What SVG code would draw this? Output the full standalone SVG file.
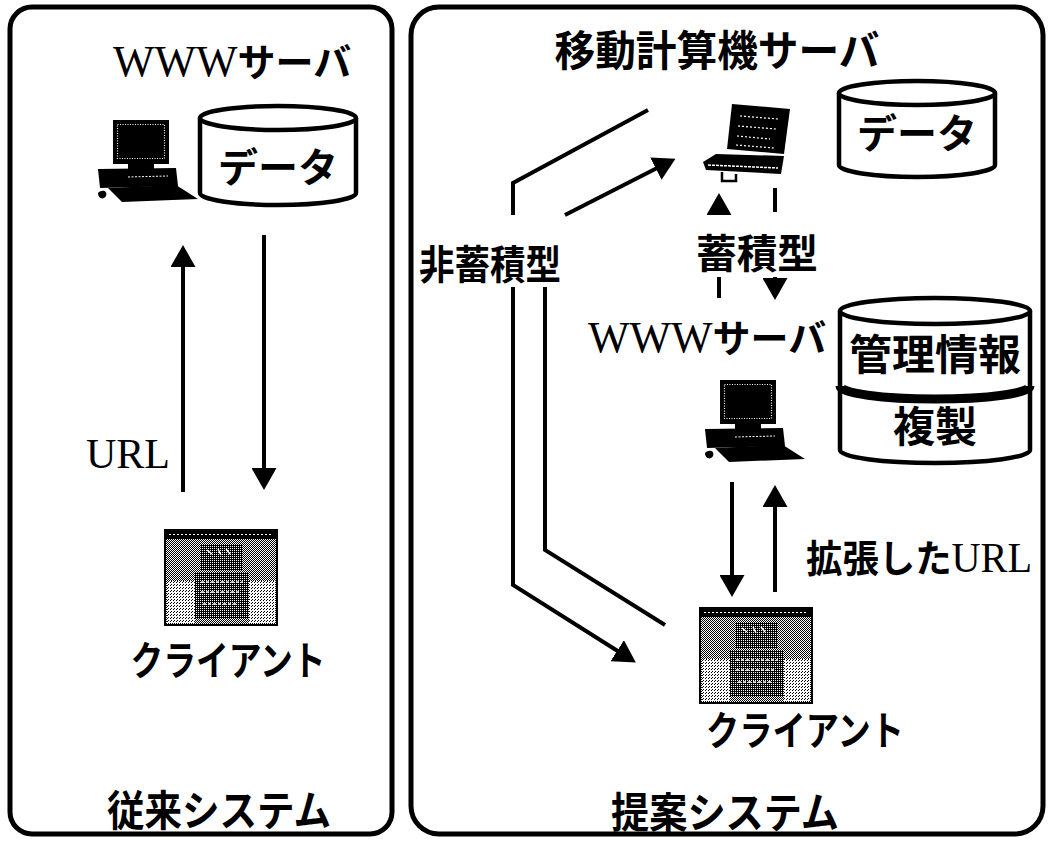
<svg xmlns="http://www.w3.org/2000/svg" width="1049" height="842" viewBox="0 0 1049 842">
  <style>
    .panel { fill: none; stroke: #000; stroke-width: 5; }
    .jp { font-family: "Noto Sans CJK JP", "Noto Sans", sans-serif; font-weight: 700; fill: #000; }
    .rom { font-family: "Liberation Serif", serif; font-weight: 400; fill: #000; }
    .cyl { fill: #fff; stroke: #000; stroke-width: 4.5; stroke-linejoin: round; }
    .band { fill: none; stroke: #000; stroke-width: 9; }
    .link { fill: none; stroke: #000; stroke-width: 4; stroke-linejoin: miter; }
  </style>
  <defs>
    <marker id="head" viewBox="0 0 22 25" refX="8" refY="12.5" markerWidth="22" markerHeight="25" markerUnits="userSpaceOnUse" orient="auto">
      <path d="M0,0 L22,12.5 L0,25 z" fill="#000"/>
    </marker>
    <!-- halftone fills for the screen shots -->
    <pattern id="ditherLight" width="3" height="3" patternUnits="userSpaceOnUse">
      <rect width="3" height="3" fill="#fff"/>
      <rect x="0" y="0" width="1" height="1" fill="#000"/>
      <rect x="2" y="1" width="1" height="1" fill="#000"/>
    </pattern>
    <pattern id="ditherMid" width="2" height="2" patternUnits="userSpaceOnUse">
      <rect width="2" height="2" fill="#fff"/>
      <rect x="0" y="0" width="1" height="1" fill="#000"/>
      <rect x="1" y="1" width="1" height="1" fill="#000"/>
    </pattern>
    <pattern id="ditherDark" width="2" height="2" patternUnits="userSpaceOnUse">
      <rect width="2" height="2" fill="#000"/>
      <rect x="1" y="0" width="1" height="1" fill="#fff"/>
    </pattern>
    <!-- desktop workstation -->
    <g id="desktop">
      <rect x="15" y="0" width="56" height="44" fill="#000"/>
      <rect x="19.5" y="4.5" width="47" height="34" fill="none" stroke="#fff" stroke-width="1.2" stroke-dasharray="1 1.5"/>
      <rect x="30" y="44" width="26" height="5" fill="#000"/>
      <path d="M0,49 L78,48 L80,66 L2,68 z" fill="#000"/>
      <path d="M30,57 L70,56" stroke="#fff" stroke-width="1" stroke-dasharray="2 1.5"/>
      <path d="M10,68 L78,65 L100,79 L24,82 z" fill="#000"/>
      <path d="M0,73 C4,69 10,71 8,76 C6,80 0,79 0,73 z" fill="#000"/>
    </g>
    <!-- browser window on the client -->
    <g id="browser">
      <rect x="0" y="0" width="112" height="95" fill="url(#ditherMid)" stroke="#000" stroke-width="2"/>
      <rect x="0" y="0" width="112" height="9" fill="#000"/>
      <path d="M4,4.5 H108" stroke="#fff" stroke-width="1" stroke-dasharray="2 2"/>
      <rect x="36" y="14" width="42" height="26" fill="url(#ditherDark)"/>
      <path d="M42,20 l5,4 m6,-5 l3,6 m5,-6 l4,5" stroke="#fff" stroke-width="1.5"/>
      <rect x="30" y="42" width="54" height="46" fill="url(#ditherDark)"/>
      <path d="M36,52 H78 M36,62 H76 M38,74 H72" stroke="#fff" stroke-width="1.5" stroke-dasharray="3 2"/>
      <rect x="2" y="51" width="28" height="42" fill="url(#ditherLight)"/>
      <rect x="84" y="51" width="26" height="42" fill="url(#ditherLight)"/>
    </g>
  </defs>

  <!-- frames -->
  <g id="conventional-frame">
    <rect class="panel" x="10" y="7" width="382" height="827" rx="22"/>
  </g>
  <g id="proposed-frame">
    <rect class="panel" x="411" y="7" width="632" height="827" rx="28"/>
  </g>

  <!-- conventional system -->
  <g id="www-server-left">
    <text x="113" y="76"><tspan class="rom" font-size="44">WWW</tspan><tspan class="jp" font-size="38">サーバ</tspan></text>
    <use href="#desktop" transform="translate(98,120)"/>
  </g>
  <g id="data-left">
    <path class="cyl" d="M200,118 V193 A78,12 0 0 0 356,193 V118"/>
    <ellipse class="cyl" cx="278" cy="118" rx="78" ry="12"/>
    <text class="jp" x="278" y="182" font-size="40" text-anchor="middle">データ</text>
  </g>
  <g id="client-left">
    <use href="#browser" transform="translate(165,530)"/>
    <text class="jp" x="228" y="675" font-size="40" text-anchor="middle" textLength="195" lengthAdjust="spacingAndGlyphs">クライアント</text>
  </g>
  <g id="label-conventional">
    <text class="jp" x="219" y="826" font-size="42" text-anchor="middle" textLength="224" lengthAdjust="spacingAndGlyphs">従来システム</text>
  </g>
  <g id="label-url">
    <text class="rom" x="86" y="468" font-size="42">URL</text>
  </g>

  <!-- proposed system -->
  <g id="mobile-server">
    <text class="jp" x="717" y="66" font-size="42" text-anchor="middle" textLength="325" lengthAdjust="spacingAndGlyphs">移動計算機サーバ</text>
    <g transform="translate(0,8)">
      <path d="M732,96 L790,101 L784,146 L727,141 z" fill="#000"/>
      <path d="M740,108 L778,111 M738,118 L776,121 M737,128 L770,131 M736,137 L774,140" stroke="#fff" stroke-width="1.2" stroke-dasharray="2 2"/>
      <path d="M716,146 L784,148 L781,166 L706,162 L703,154 z" fill="#000"/>
      <path d="M708,157 L778,160" stroke="#fff" stroke-width="1.5" stroke-dasharray="3 1"/>
      <path d="M722,164 V173 H736 V166" fill="none" stroke="#000" stroke-width="2.5"/>
    </g>
  </g>
  <g id="data-right">
    <path class="cyl" d="M839,93 V165 A78,12 0 0 0 995,165 V93"/>
    <ellipse class="cyl" cx="917" cy="93" rx="78" ry="12"/>
    <text class="jp" x="917" y="148" font-size="40" text-anchor="middle">データ</text>
  </g>
  <g id="label-stored">
    <text class="jp" x="757" y="268" font-size="40" text-anchor="middle" textLength="122" lengthAdjust="spacingAndGlyphs">蓄積型</text>
  </g>
  <g id="label-unstored">
    <text class="jp" x="490" y="279" font-size="40" text-anchor="middle" textLength="142" lengthAdjust="spacingAndGlyphs">非蓄積型</text>
  </g>
  <g id="www-server-right">
    <text x="588" y="352"><tspan class="rom" font-size="44">WWW</tspan><tspan class="jp" font-size="38">サーバ</tspan></text>
    <use href="#desktop" transform="translate(705,380)"/>
  </g>
  <g id="replica-store">
    <path class="cyl" d="M840,311 V450 A95,13 0 0 0 1030,450 V311"/>
    <ellipse class="cyl" cx="935" cy="311" rx="95" ry="13"/>
    <path class="band" d="M840,386 A95,13 0 0 0 1030,386"/>
    <text class="jp" x="935" y="370" font-size="42" text-anchor="middle" textLength="172" lengthAdjust="spacingAndGlyphs">管理情報</text>
    <text class="jp" x="935" y="442" font-size="42" text-anchor="middle">複製</text>
  </g>
  <g id="label-extended-url">
    <text x="806" y="572" textLength="226" lengthAdjust="spacingAndGlyphs"><tspan class="jp" font-size="38">拡張した</tspan><tspan class="rom" font-size="42">URL</tspan></text>
  </g>
  <g id="client-right">
    <use href="#browser" transform="translate(700,608)"/>
    <text class="jp" x="805" y="745" font-size="40" text-anchor="middle" textLength="198" lengthAdjust="spacingAndGlyphs">クライアント</text>
  </g>
  <g id="label-proposed">
    <text class="jp" x="725" y="828" font-size="42" text-anchor="middle" textLength="228" lengthAdjust="spacingAndGlyphs">提案システム</text>
  </g>

  <!-- connectors -->
  <g id="connectors">
    <!-- conventional request / response -->
    <path class="link" d="M183,492 V259" marker-end="url(#head)"/>
    <path class="link" d="M264,235 V476" marker-end="url(#head)"/>
    <!-- non-stored access to the mobile server -->
    <path class="link" d="M513,215 V183 L648,110"/>
    <path class="link" d="M565,215 L663,165" marker-end="url(#head)"/>
    <path class="link" d="M513,287 V585 L624,655" marker-end="url(#head)"/>
    <path class="link" d="M545,287 V550 L665,625"/>
    <!-- stored: copy to the WWW server -->
    <path class="link" d="M719,212 V207" marker-end="url(#head)"/>
    <path class="link" d="M719,277 V298"/>
    <path class="link" d="M775,188 V212"/>
    <path class="link" d="M775,277 V286" marker-end="url(#head)"/>
    <!-- extended URL request / response -->
    <path class="link" d="M732,482 V583" marker-end="url(#head)"/>
    <path class="link" d="M775,592 V499" marker-end="url(#head)"/>
  </g>
</svg>
